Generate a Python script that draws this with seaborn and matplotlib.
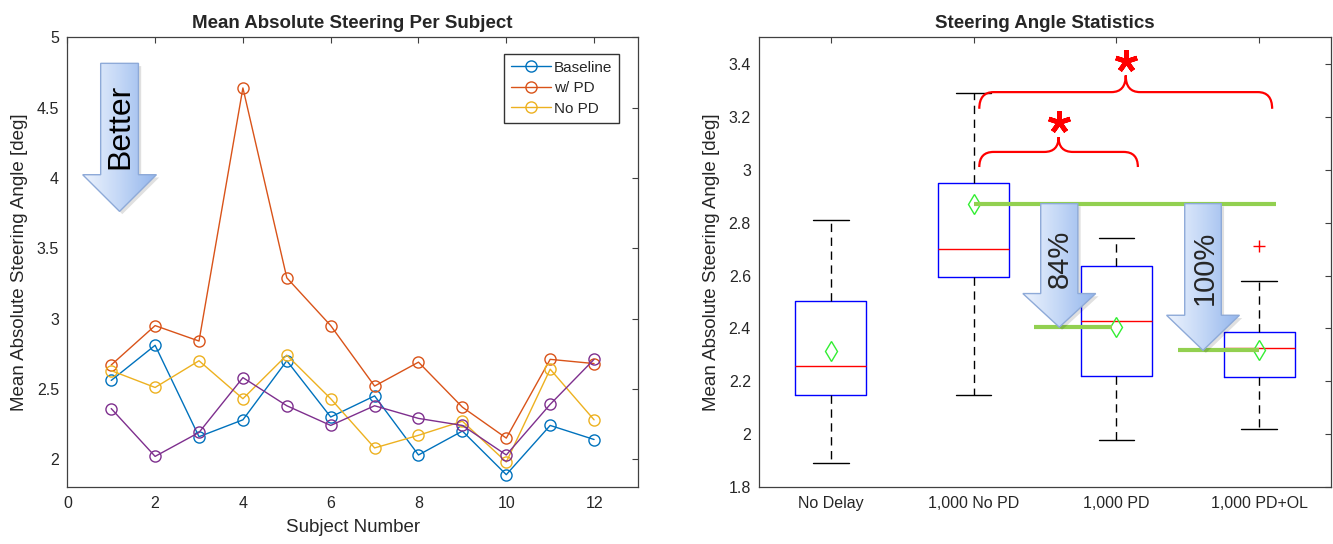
import numpy as np
import matplotlib
matplotlib.use("Agg")
import matplotlib.pyplot as plt
import seaborn as sns
from matplotlib.patches import Polygon, PathPatch
from matplotlib.path import Path
from matplotlib.colors import LinearSegmentedColormap
from matplotlib.ticker import FuncFormatter
from matplotlib.transforms import ScaledTranslation

# per-subject mean absolute steering angle [deg]
subjects = list(range(1, 13))
baseline = [2.56, 2.81, 2.16, 2.28, 2.70, 2.30, 2.45, 2.03, 2.20, 1.89, 2.24, 2.14]
with_pd = [2.67, 2.95, 2.84, 4.64, 3.29, 2.95, 2.52, 2.69, 2.37, 2.15, 2.71, 2.68]
no_pd = [2.63, 2.51, 2.70, 2.43, 2.74, 2.43, 2.08, 2.17, 2.27, 1.98, 2.64, 2.28]
pd_ol = [2.36, 2.02, 2.19, 2.58, 2.38, 2.24, 2.38, 2.29, 2.24, 2.03, 2.39, 2.71]

series_labels = ["Baseline", "w/ PD", "No PD"]
series_colors = ["#0072BD", "#D95319", "#EDB120", "#7E2F8E"]
box_labels = ["No Delay", "1,000 No PD", "1,000 PD", "1,000 PD+OL"]
drop_labels = ["84%", "100%"]

sns.set_style("white")
plt.rcParams["font.family"] = ["Liberation Sans", "DejaVu Sans"]
plt.rcParams["axes.edgecolor"] = "#404040"
plt.rcParams["axes.linewidth"] = 0.9

TXT = "#262626"
arrow_cmap = LinearSegmentedColormap.from_list("arr", ["#edf3fd", "#c3d7f6", "#93b5ec"])


def box_stats(vals, label):
    # MATLAB-style quartiles
    v = np.sort(np.asarray(vals))
    q1, med, q3 = np.percentile(v, [25, 50, 75], method="hazen")
    iqr = q3 - q1
    lo = v[v >= q1 - 1.5 * iqr].min()
    hi = v[v <= q3 + 1.5 * iqr].max()
    fl = v[(v < lo) | (v > hi)]
    return dict(label=label, med=med, q1=q1, q3=q3, whislo=lo, whishi=hi,
                mean=v.mean(), fliers=fl)


def grad_arrow(ax, xc, top, base, tip, shaft_hw, head_hw, z=6):
    verts = [(xc - shaft_hw, top), (xc + shaft_hw, top), (xc + shaft_hw, base),
             (xc + head_hw, base), (xc, tip), (xc - head_hw, base), (xc - shaft_hw, base)]
    shadow = Polygon(verts, closed=True, fc="black", alpha=0.12, lw=0, zorder=z - 1,
                     transform=ax.transData + ScaledTranslation(2 / 72, -2 / 72, ax.figure.dpi_scale_trans))
    ax.add_patch(shadow)
    poly = Polygon(verts, closed=True, fc="none", ec="#8eaad8", lw=1, zorder=z + 1)
    ax.add_patch(poly)
    grad = np.linspace(0, 1, 256).reshape(1, -1)
    im = ax.imshow(grad, cmap=arrow_cmap, extent=(xc - head_hw, xc + head_hw, tip, top),
                   aspect="auto", origin="lower", zorder=z, interpolation="bicubic")
    im.set_clip_path(poly)


def brace(ax, x0, x1, y0, y1, y2, r=0.1):
    xm = (x0 + x1) / 2
    verts = [(x0, y0), (x0, y1), (x0 + r, y1), (xm - r, y1), (xm, y1), (xm, y2),
             (xm, y1), (xm + r, y1), (x1 - r, y1), (x1, y1), (x1, y0)]
    codes = [Path.MOVETO, Path.CURVE3, Path.CURVE3, Path.LINETO, Path.CURVE3, Path.CURVE3,
             Path.CURVE3, Path.CURVE3, Path.LINETO, Path.CURVE3, Path.CURVE3]
    ax.add_patch(PathPatch(Path(verts, codes), fc="none", ec="red", lw=1.6, zorder=8))
    return xm


def style_axes(ax):
    ax.tick_params(direction="in", top=True, right=True, length=4, width=0.8,
                   colors="#404040", labelcolor=TXT, labelsize=11.5, pad=6)
    ax.yaxis.set_major_formatter(FuncFormatter(lambda v, p: f"{v:g}"))
    for s in ax.spines.values():
        s.set_visible(True)


fig = plt.figure(figsize=(13.33, 5.44), dpi=100)
ax1 = fig.add_axes([0.0505, 0.1042, 0.4281, 0.8272])
ax2 = fig.add_axes([0.5696, 0.1042, 0.4287, 0.8272])

# ---- left: per subject lines
all_series = [baseline, with_pd, no_pd, pd_ol]
for vals, col in zip(all_series, series_colors):
    sns.lineplot(x=subjects, y=vals, ax=ax1, color=col, lw=1, marker="o", ms=8,
                 markerfacecolor="none", markeredgecolor=col, markeredgewidth=1)
lines = ax1.get_lines()
leg = ax1.legend(lines[:3], series_labels, loc="upper right", bbox_to_anchor=(0.967, 0.963),
                 borderaxespad=0, fontsize=11, frameon=True, fancybox=False, edgecolor="black",
                 handlelength=2.6, handletextpad=0.2, borderpad=0.45, labelspacing=0.42)
leg.get_frame().set_linewidth(1)

grad_arrow(ax1, 1.19, 4.815, 4.023, 3.762, 0.43, 0.84)
ax1.text(1.22, 4.37, "Better", rotation=90, ha="center", va="center", fontsize=23,
         color="black", zorder=9)

ax1.set_xlim(0, 13)
ax1.set_ylim(1.8, 5)
ax1.set_xticks(range(0, 13, 2))
ax1.set_yticks([2, 2.5, 3, 3.5, 4, 4.5, 5])
style_axes(ax1)
ax1.set_title("Mean Absolute Steering Per Subject", fontsize=13.5, fontweight="bold", pad=7)
ax1.set_xlabel("Subject Number", fontsize=13.5, color=TXT, labelpad=6)
ax1.set_ylabel("Mean Absolute Steering Angle [deg]", fontsize=13.5, color=TXT, labelpad=6)

# ---- right: box statistics
stats = [box_stats(v, l) for v, l in zip(all_series, box_labels)]
ax2.bxp(stats, positions=range(4), widths=0.5, showmeans=True, manage_ticks=False,
        boxprops=dict(color="blue", lw=1),
        medianprops=dict(color="red", lw=1),
        whiskerprops=dict(color="black", lw=1, ls=(0, (6, 4))),
        capprops=dict(color="black", lw=1),
        meanprops=dict(marker="d", markerfacecolor="none", markeredgecolor="#33ee33",
                       markersize=10, markeredgewidth=1),
        flierprops=dict(marker="+", markeredgecolor="red", markersize=8, markeredgewidth=1))

means = [s["mean"] for s in stats]
green = "#92d050"
ax2.plot([1.0, 3.12], [means[1], means[1]], color=green, lw=3, zorder=3, solid_capstyle="butt")
ax2.plot([1.42, 1.97], [means[2], means[2]], color=green, lw=3, zorder=3, solid_capstyle="butt")
ax2.plot([2.43, 3.0], [means[3], means[3]], color=green, lw=3, zorder=3, solid_capstyle="butt")

grad_arrow(ax2, 1.60, means[1], 2.532, means[2], 0.13, 0.255)
grad_arrow(ax2, 2.606, means[1], 2.45, means[3], 0.128, 0.255)
ax2.text(1.605, 2.664, drop_labels[0], rotation=90, ha="center", va="center", fontsize=21, zorder=9)
ax2.text(2.62, 2.63, drop_labels[1], rotation=90, ha="center", va="center", fontsize=21, zorder=9)

xm1 = brace(ax2, 1.04, 2.15, 3.01, 3.067, 3.123)
xm2 = brace(ax2, 1.04, 3.09, 3.23, 3.293, 3.356)
ax2.plot([xm1], [3.18], marker=(5, 2, 0), ms=16, mew=3.4, color="red", zorder=9)
ax2.plot([xm2], [3.41], marker=(5, 2, 0), ms=16, mew=3.4, color="red", zorder=9)

ax2.set_xlim(-0.5, 3.5)
ax2.set_ylim(1.8, 3.5)
ax2.set_xticks(range(4))
ax2.set_xticklabels(box_labels)
ax2.set_yticks([1.8, 2.0, 2.2, 2.4, 2.6, 2.8, 3.0, 3.2, 3.4])
style_axes(ax2)
ax2.set_title("Steering Angle Statistics", fontsize=13.5, fontweight="bold", pad=7)
ax2.set_ylabel("Mean Absolute Steering Angle [deg]", fontsize=13.5, color=TXT, labelpad=6)

fig.savefig("out.png", dpi=100)
